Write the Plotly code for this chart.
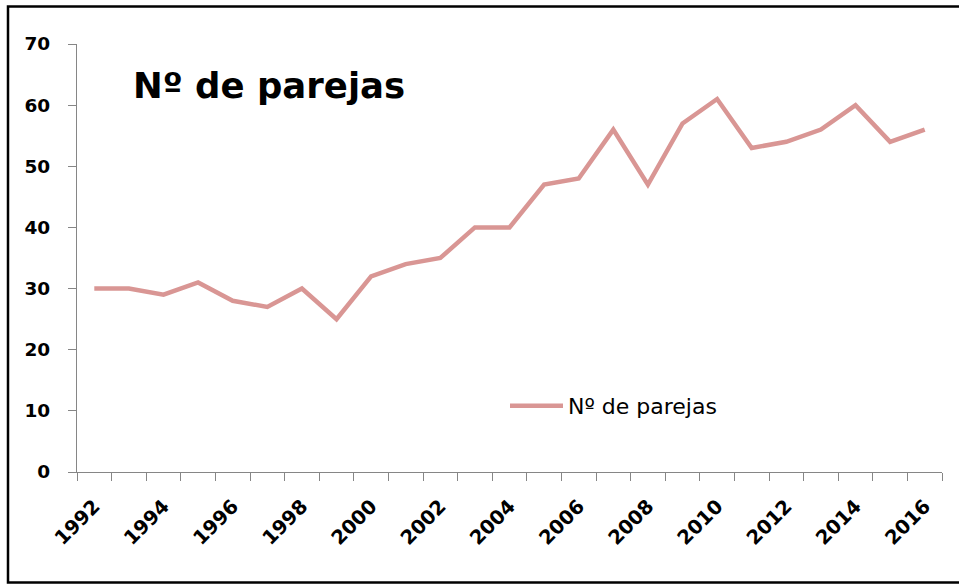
import plotly.graph_objects as go

years = list(range(1992, 2017))
parejas = [30, 30, 29, 31, 28, 27, 30, 25, 32, 34, 35, 40, 40, 47, 48, 56, 47, 57, 61, 53, 54, 56, 60, 54, 56]
label_years = list(range(1992, 2017, 2))
series_name = "Nº de parejas"
title_text = "Nº de parejas"

W, H = 959, 584
L, R, T, B = 77, 17, 44, 112
pw, ph = W - L - R, H - T - B

def px(x):
    return (x - L) / pw

def py(y):
    return (H - B - y) / ph

FONT = "DejaVu Sans"
GRAY = "#868686"

fig = go.Figure()
fig.add_trace(go.Scatter(
    x=years, y=parejas, mode="lines", name=series_name,
    line=dict(color="#D99694", width=4.5),
    showlegend=True,
))

fig.update_layout(
    width=W, height=H,
    margin=dict(l=L, r=R, t=T, b=B),
    paper_bgcolor="white", plot_bgcolor="white",
    font=dict(family=FONT, color="black"),
    showlegend=True,
    legend=dict(
        x=px(505), y=py(406), xanchor="left", yanchor="middle",
        bgcolor="rgba(0,0,0,0)", font=dict(family=FONT, size=22, color="black"),
        itemwidth=53,
    ),
    xaxis=dict(
        range=[1991.5, 2016.5],
        tickmode="array", tickvals=label_years, ticktext=[str(y) for y in label_years],
        ticks="", tickangle=-45,
        tickfont=dict(family=FONT, size=19.5, color="black", weight="bold"),
        showline=True, linecolor=GRAY, linewidth=1.3,
        showgrid=False, zeroline=False,
        ticklabelstandoff=14,
        minor=dict(tickmode="array", tickvals=[y - 0.5 for y in years] + [2016.5],
                   ticks="outside", ticklen=8, tickcolor=GRAY, tickwidth=1.3, showgrid=False),
    ),
    yaxis=dict(
        range=[0, 70], tickmode="linear", tick0=0, dtick=10,
        ticks="outside", ticklen=8, tickcolor=GRAY, tickwidth=1.3,
        tickfont=dict(family=FONT, size=18.5, color="black", weight="bold"),
        showline=True, linecolor=GRAY, linewidth=1.3,
        showgrid=False, zeroline=False,
        ticklabelstandoff=14,
    ),
    annotations=[dict(
        text=title_text, xref="paper", yref="paper",
        x=px(131), y=py(85), xanchor="left", yanchor="middle",
        showarrow=False,
        font=dict(family=FONT, size=35.5, color="black", weight="bold"),
    )],
    shapes=[dict(
        type="rect", xref="paper", yref="paper",
        x0=px(8), x1=px(975), y0=py(582.5), y1=py(6.5),
        line=dict(color="black", width=2.5), layer="above",
    )],
)

fig.write_html("out.html", config={"displayModeBar": False},
               post_script="document.body.style.margin='0';")
